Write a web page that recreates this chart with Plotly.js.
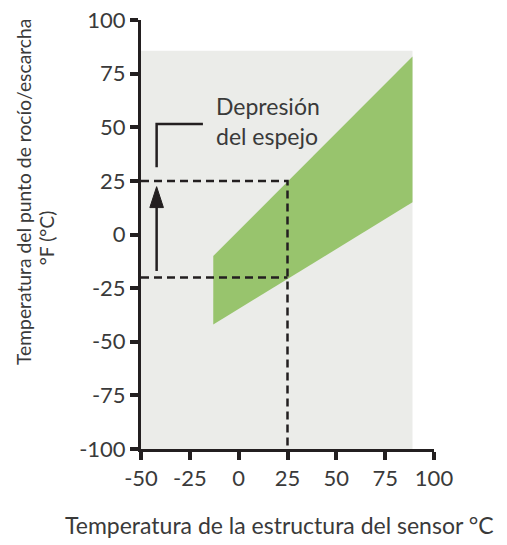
<!DOCTYPE html>
<html>
<head>
<meta charset="utf-8">
<script src="https://cdn.plot.ly/plotly-3.0.1.min.js"></script>
<style>html,body{margin:0;padding:0;background:#fff;}#chart{width:507px;height:545px;}</style>
</head>
<body>
<div id="chart"></div>
<script>
// Data
var xTickVals = [-50, -25, 0, 25, 50, 75, 100];
var xTickText = ['-50', '-25', '0', '25', '50', '75', '100'];
var yTickVals = [-100, -75, -50, -25, 0, 25, 50, 75, 100];
var yTickText = ['-100', '-75', '-50', '-25', '0', '25', '50', '75', '100'];

// gray measurement range
var rangeX = [-50, 89, 89, -50];
var rangeY = [-100, -100, 85.7, 85.7];

// green operating band
var bandX = [-13, 89, 89, -13];
var bandY = [-10, 83, 15, -42];

// example: sensor at 25, dew point 25 vs. -20
var sensorTemp = 25;
var upperDew = 25;
var lowerDew = -20;

// bracket for the label
var bracketX = [-42, -42, -18.3];
var bracketY = [31.4, 51.5, 51.5];

// arrow (depression): tail and tip
var arrowX = [-42, -42];
var arrowY = [-17, 22.3];

var labelText = 'Depresión<br>del espejo';
var xTitle = 'Temperatura de la estructura del sensor °C';
var yTitle1 = 'Temperatura del punto de rocío/escarcha';
var yTitle2 = '°F (°C)';

var ink = '#231f20';
var textCol = '#3a3a3a';
var fontFam = 'Lato, "Open Sans", sans-serif';

var W = 507, H = 545;
var margin = {l: 141, r: 73, t: 20, b: 96, pad: 0};
var yRange = [-100, 100];
var headLen = 22; // px
var pxPerY = (H - margin.t - margin.b) / (yRange[1] - yRange[0]);
var shaftEndY = arrowY[1] - (headLen * 0.6) / pxPerY;

var traces = [
  {x: rangeX, y: rangeY, type: 'scatter', mode: 'lines', fill: 'toself',
   fillcolor: '#ebece9', line: {width: 0, color: 'rgba(0,0,0,0)'}, hoverinfo: 'skip'},
  {x: bandX, y: bandY, type: 'scatter', mode: 'lines', fill: 'toself',
   fillcolor: '#98c46d', line: {width: 0, color: 'rgba(0,0,0,0)'}, hoverinfo: 'skip'},
  {x: [-50, sensorTemp, sensorTemp], y: [upperDew, upperDew, -100], type: 'scatter', mode: 'lines',
   line: {color: ink, width: 2.5, dash: '8px,5px'}, hoverinfo: 'skip'},
  {x: [-50, sensorTemp], y: [lowerDew, lowerDew], type: 'scatter', mode: 'lines',
   line: {color: ink, width: 2.5, dash: '8px,5px'}, hoverinfo: 'skip'},
  {x: bracketX, y: bracketY, type: 'scatter', mode: 'lines',
   line: {color: ink, width: 2.5}, hoverinfo: 'skip'},
  {x: [arrowX[0], arrowX[1]], y: [arrowY[0], shaftEndY], type: 'scatter', mode: 'lines',
   line: {color: ink, width: 2.5}, hoverinfo: 'skip'},
  {x: [arrowX[1]], y: [arrowY[1]], type: 'scatter', mode: 'markers',
   marker: {symbol: 'arrow', size: headLen, color: ink, angle: 0, opacity: 1,
            line: {color: ink, width: 1}},
   hoverinfo: 'skip'}
];

var annotations = [
  {text: labelText, x: -12.8, y: 53, xref: 'x', yref: 'y', xanchor: 'left', yanchor: 'middle',
   align: 'left', showarrow: false, font: {family: fontFam, size: 23, color: textCol}},
  {text: xTitle, x: 0.472, y: -0.176, xref: 'paper', yref: 'paper', xanchor: 'center', yanchor: 'middle',
   showarrow: false, font: {family: fontFam, size: 23, color: textCol}},
  {text: yTitle1, x: -0.403, y: 0.599, xref: 'paper', yref: 'paper', xanchor: 'center', yanchor: 'middle',
   textangle: -90, showarrow: false, font: {family: fontFam, size: 19.3, color: textCol}},
  {text: yTitle2, x: -0.32, y: 0.492, xref: 'paper', yref: 'paper', xanchor: 'center', yanchor: 'middle',
   textangle: -90, showarrow: false, font: {family: fontFam, size: 19.3, color: textCol}}
];

var axisCommon = {
  showgrid: false, zeroline: false, showline: true, linecolor: ink, linewidth: 3,
  ticks: 'outside', ticklen: 8, tickwidth: 4, tickcolor: ink,
  tickfont: {family: fontFam, size: 22, color: textCol}, fixedrange: true
};

var layout = {
  width: W, height: H,
  margin: margin,
  paper_bgcolor: '#ffffff', plot_bgcolor: '#ffffff',
  showlegend: false,
  xaxis: Object.assign({}, axisCommon, {range: [-50, 100], tickmode: 'array', tickvals: xTickVals, ticktext: xTickText}),
  yaxis: Object.assign({}, axisCommon, {range: yRange, tickmode: 'array', tickvals: yTickVals, ticktext: yTickText}),
  annotations: annotations
};

Plotly.newPlot('chart', traces, layout, {displayModeBar: false, staticPlot: true});
</script>
</body>
</html>
